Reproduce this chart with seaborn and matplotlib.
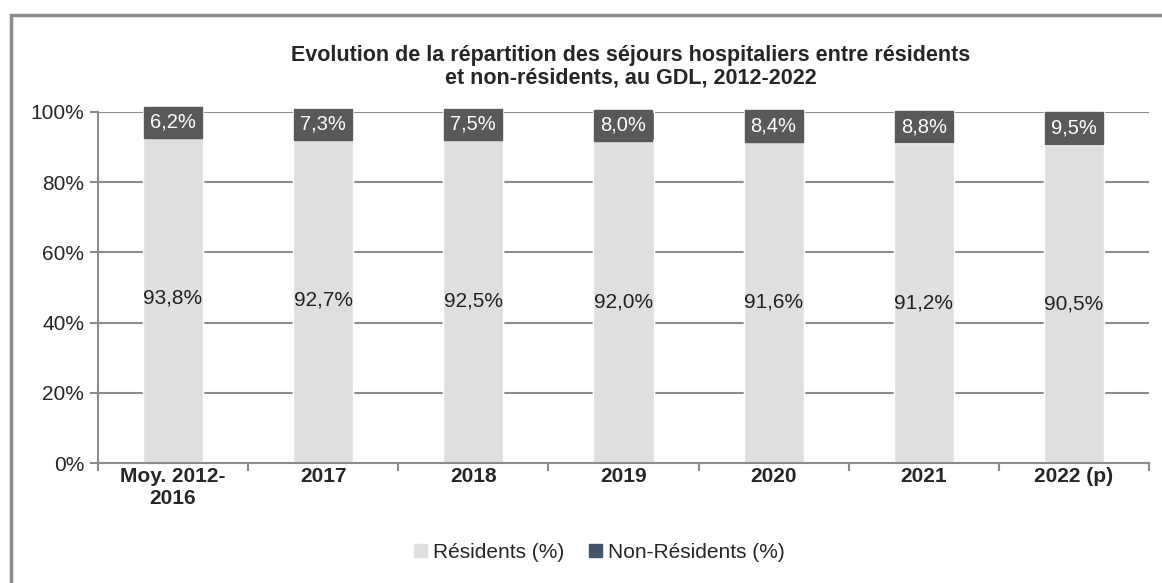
# stacked bar chart: hospital stays, residents vs non-residents

import matplotlib
matplotlib.use("Agg")
import matplotlib.pyplot as plt
import pandas as pd
import seaborn as sns
from matplotlib.patches import Rectangle

categories = ["Moy. 2012-\n2016", "2017", "2018", "2019", "2020", "2021", "2022 (p)"]
residents = [93.8, 92.7, 92.5, 92.0, 91.6, 91.2, 90.5]
non_residents = [6.2, 7.3, 7.5, 8.0, 8.4, 8.8, 9.5]

RES_COLOR = "#dfdfdf"
NONRES_COLOR = "#44546a"
LABEL_BOX = "#595959"
GRID = "#8c8c8c"


def fmt(v):
    return f"{v:.1f}%".replace(".", ",")


def main():
    sns.set_theme(style="white")
    plt.rcParams["font.family"] = ["Liberation Sans", "DejaVu Sans"]

    df = pd.DataFrame({
        "cat": categories,
        "res": residents,
        "nonres": non_residents,
    })
    df["total"] = df["res"] + df["nonres"]

    fig = plt.figure(figsize=(11.62, 5.83), dpi=100)
    ax = fig.add_axes([0.0843, 0.2058, 0.9045, 0.6021])

    # total first (dark), residents drawn on top (light)
    sns.barplot(data=df, x="cat", y="total", color=NONRES_COLOR, width=0.4,
                saturation=1, ax=ax)
    sns.barplot(data=df, x="cat", y="res", color=RES_COLOR, width=0.4,
                saturation=1, ax=ax)

    ax.set_ylim(0, 100)
    ax.set_xlim(-0.5, len(categories) - 0.5)
    ax.set_yticks(range(0, 101, 20))
    ax.set_yticklabels([f"{t}%" for t in range(0, 101, 20)], fontsize=15)
    ax.set_xticks(range(len(categories)))
    ax.set_xticklabels(categories, fontsize=15, fontweight="bold",
                       linespacing=1.2)
    ax.tick_params(axis="x", length=0, pad=3)
    ax.tick_params(axis="y", length=6, width=1.5, color=GRID, left=True,
                   pad=4)
    # minor ticks on x at category boundaries
    ax.set_xticks([i - 0.5 for i in range(len(categories) + 1)], minor=True)
    ax.tick_params(axis="x", which="minor", length=6, width=1.5, color=GRID,
                   bottom=True)
    ax.set_xlabel("")
    ax.set_ylabel("")

    ax.yaxis.grid(True, color=GRID, linewidth=1.5)
    ax.set_axisbelow(True)
    for s in ["top", "right"]:
        ax.spines[s].set_visible(False)
    for s in ["left", "bottom"]:
        ax.spines[s].set_color(GRID)
        ax.spines[s].set_linewidth(1.5)

    # data labels
    for i in range(len(categories)):
        ax.text(i, residents[i] / 2, fmt(residents[i]), ha="center",
                va="center", fontsize=15, color="#222222")
        ax.text(i, residents[i] + non_residents[i] / 2 + 0.2,
                fmt(non_residents[i]), ha="center", va="center",
                fontsize=14.5, color="white",
                bbox=dict(boxstyle="square,pad=0.3", fc=LABEL_BOX,
                          ec=LABEL_BOX))

    fig.text(0.543, 0.885,
             "Evolution de la répartition des séjours hospitaliers entre résidents\n"
             "et non-résidents, au GDL, 2012-2022",
             ha="center", va="center", fontsize=15.5, fontweight="bold",
             linespacing=1.1)

    handles = [
        Rectangle((0, 0), 1, 1, color=RES_COLOR),
        Rectangle((0, 0), 1, 1, color=NONRES_COLOR),
    ]
    fig.legend(handles, ["Résidents (%)", "Non-Résidents (%)"],
               loc="center", bbox_to_anchor=(0.516, 0.052), ncol=2,
               frameon=False, fontsize=15, handlelength=0.6,
               handleheight=0.6, handletextpad=0.3, columnspacing=1.2)

    # outer frame
    fig.patches.append(Rectangle((11 / 1162, -0.1), 1.2, 1 - 15 / 583 + 0.1,
                                 transform=fig.transFigure, fill=False,
                                 ec="#8c8c8c", lw=2.5, zorder=0))

    fig.savefig("out.png", dpi=100)


if __name__ == "__main__":
    main()
